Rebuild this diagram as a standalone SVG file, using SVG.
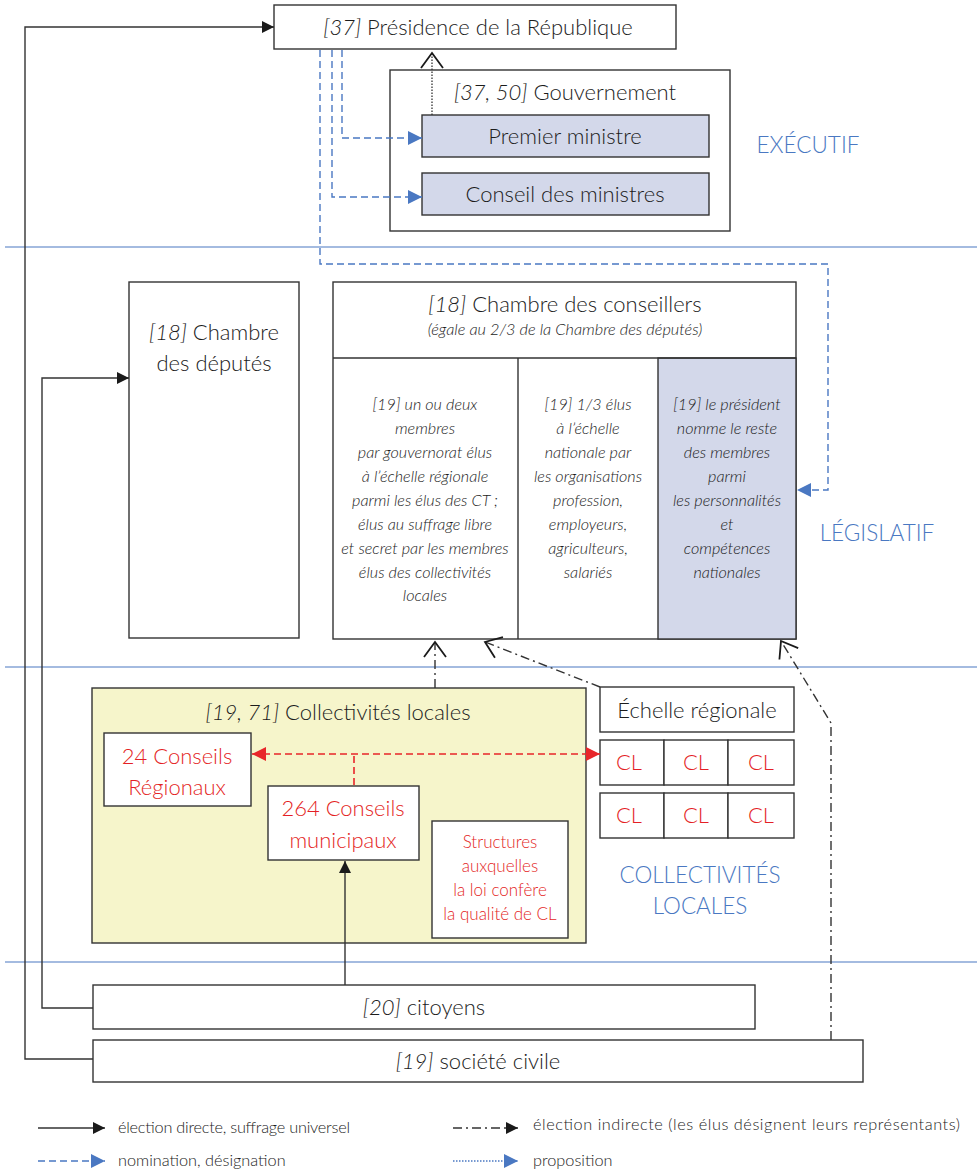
<svg xmlns="http://www.w3.org/2000/svg" width="977" height="1171" viewBox="0 0 977 1171">
  <style>
    text { font-family: "Lato", "Noto Sans", "Liberation Sans", sans-serif; fill: #1c1c1c; font-weight: 300; }
    .t21 { font-size: 22px; text-anchor: middle; }
    .t20 { font-size: 22px; text-anchor: middle; }
    .it { font-style: italic; }
    .col { font-size: 16.2px; font-style: italic; text-anchor: middle; }
    .red { fill: #e41f25; }
    .zone { font-size: 22.5px; fill: #4a78c2; text-anchor: middle; font-weight: 300; }
    .leg { font-size: 16.3px; }
    .box { fill: #ffffff; stroke: #333333; stroke-width: 1.4; }
    .lav { fill: #d3d8ea; stroke: #333333; stroke-width: 1.4; }
    .yel { fill: #f6f5cb; stroke: #333333; stroke-width: 1.4; }
    .sep { stroke: #4a78c2; stroke-width: 1.2; }
    .direct { fill: none; stroke: #333333; stroke-width: 1.4; }
    .nomin { fill: none; stroke: #4a78c2; stroke-width: 1.4; stroke-dasharray: 7 4; }
    .indir { fill: none; stroke: #333333; stroke-width: 1.4; stroke-dasharray: 9 4 2 4; }
    .prop { fill: none; stroke: #333333; stroke-width: 1.3; stroke-dasharray: 1.5 1.5; }
    .reddash { fill: none; stroke: #e8262a; stroke-width: 1.6; stroke-dasharray: 7 4; }
  </style>
  <defs>
    <marker id="arrBlack" viewBox="0 0 12 12" refX="12" refY="6" markerWidth="12" markerHeight="12" markerUnits="userSpaceOnUse" orient="auto">
      <path d="M0,0 L12,6 L0,12 z" fill="#1a1a1a"/>
    </marker>
    <marker id="arrBlue" viewBox="0 0 14 14" refX="14" refY="7" markerWidth="14" markerHeight="14" markerUnits="userSpaceOnUse" orient="auto">
      <path d="M0,0 L14,7 L0,14 z" fill="#4a78c2"/>
    </marker>
    <marker id="arrRed" viewBox="0 0 14 14" refX="14" refY="7" markerWidth="14" markerHeight="14" markerUnits="userSpaceOnUse" orient="auto-start-reverse">
      <path d="M0,0 L14,7 L0,14 z" fill="#e8262a"/>
    </marker>
    <marker id="arrOpen" viewBox="0 0 18 24" refX="16" refY="12" markerWidth="18" markerHeight="24" markerUnits="userSpaceOnUse" orient="auto">
      <path d="M1,1 L16,12 L1,23" fill="none" stroke="#1a1a1a" stroke-width="1.8" stroke-dasharray="none"/>
    </marker>
  </defs>

  <rect width="977" height="1171" fill="#ffffff"/>

  <!-- zone separators -->
  <g id="separators">
    <line class="sep" x1="5" y1="247" x2="977" y2="247"/>
    <line class="sep" x1="5" y1="667" x2="977" y2="667"/>
    <line class="sep" x1="5" y1="962" x2="977" y2="962"/>
  </g>

  <!-- zone labels -->
  <g id="zone-labels">
    <text class="zone" x="808" y="153">EXÉCUTIF</text>
    <text class="zone" x="877" y="541">LÉGISLATIF</text>
    <text class="zone" x="700" y="883">COLLECTIVITÉS</text>
    <text class="zone" x="700" y="914">LOCALES</text>
  </g>

  <!-- executive -->
  <g id="presidence">
    <rect class="box" x="274" y="5" width="402" height="44"/>
    <text class="t21" x="478" y="35"><tspan class="it">[37]</tspan> Présidence de la République</text>
  </g>
  <g id="gouvernement">
    <rect class="box" x="390" y="70" width="340" height="161"/>
    <text class="t21" x="565" y="100"><tspan class="it">[37, 50]</tspan> Gouvernement</text>
  </g>
  <g id="premier-ministre">
    <rect class="lav" x="422" y="115" width="287" height="42"/>
    <text class="t21" x="565" y="144">Premier ministre</text>
  </g>
  <g id="conseil-ministres">
    <rect class="lav" x="422" y="173" width="287" height="42"/>
    <text class="t21" x="565" y="202">Conseil des ministres</text>
  </g>

  <!-- legislative -->
  <g id="chambre-deputes">
    <rect class="box" x="129" y="282" width="170" height="356"/>
    <text class="t21" x="214" y="340"><tspan class="it">[18]</tspan> Chambre</text>
    <text class="t21" x="214" y="371">des députés</text>
  </g>
  <g id="chambre-conseillers">
    <rect class="box" x="333" y="282" width="463" height="357"/>
    <rect class="lav" x="658" y="358" width="138" height="281"/>
    <line x1="333" y1="358" x2="796" y2="358" stroke="#333333" stroke-width="1.4"/>
    <line x1="518" y1="358" x2="518" y2="639" stroke="#333333" stroke-width="1.4"/>
    <text class="t21" x="565" y="312"><tspan class="it">[18]</tspan> Chambre des conseillers</text>
    <text class="col" x="565" y="335" style="font-size:16.3px">(égale au 2/3 de la Chambre des députés)</text>
  </g>
  <g id="membres-regionaux">
    <text class="col" x="425" y="410">[19] un ou deux</text>
    <text class="col" x="425" y="434">membres</text>
    <text class="col" x="425" y="458">par gouvernorat élus</text>
    <text class="col" x="425" y="482">à l’échelle régionale</text>
    <text class="col" x="425" y="506">parmi les élus des CT ;</text>
    <text class="col" x="425" y="530">élus au suffrage libre</text>
    <text class="col" x="425" y="554">et secret par les membres</text>
    <text class="col" x="425" y="578">élus des collectivités</text>
    <text class="col" x="425" y="601">locales</text>
  </g>
  <g id="membres-nationaux">
    <text class="col" x="588" y="410">[19] 1/3 élus</text>
    <text class="col" x="588" y="434">à l’échelle</text>
    <text class="col" x="588" y="458">nationale par</text>
    <text class="col" x="588" y="482">les organisations</text>
    <text class="col" x="588" y="506">profession,</text>
    <text class="col" x="588" y="530">employeurs,</text>
    <text class="col" x="588" y="554">agriculteurs,</text>
    <text class="col" x="588" y="578">salariés</text>
  </g>
  <g id="membres-nommes">
    <text class="col" x="727" y="410">[19] le président</text>
    <text class="col" x="727" y="434">nomme le reste</text>
    <text class="col" x="727" y="458">des membres</text>
    <text class="col" x="727" y="482">parmi</text>
    <text class="col" x="727" y="506">les personnalités</text>
    <text class="col" x="727" y="530">et</text>
    <text class="col" x="727" y="554">compétences</text>
    <text class="col" x="727" y="578">nationales</text>
  </g>

  <!-- local authorities -->
  <g id="collectivites-locales">
    <rect class="yel" x="92" y="688" width="494" height="255"/>
    <text class="t21" x="338" y="720"><tspan class="it">[19, 71]</tspan> Collectivités locales</text>
  </g>
  <g id="conseils-regionaux">
    <rect class="box" x="104" y="733" width="147" height="73"/>
    <text class="t21 red" x="177" y="764">24 Conseils</text>
    <text class="t21 red" x="177" y="795">Régionaux</text>
  </g>
  <g id="conseils-municipaux">
    <rect class="box" x="268" y="786" width="151" height="74"/>
    <text class="t21 red" x="343" y="816">264 Conseils</text>
    <text class="t21 red" x="343" y="848">municipaux</text>
  </g>
  <g id="structures">
    <rect class="box" x="432" y="821" width="136" height="117"/>
    <text class="t20 red" x="500" y="848" style="font-size:17px">Structures</text>
    <text class="t20 red" x="500" y="872" style="font-size:17px">auxquelles</text>
    <text class="t20 red" x="500" y="896" style="font-size:17px">la loi confère</text>
    <text class="t20 red" x="500" y="920" style="font-size:17px">la qualité de CL</text>
  </g>
  <g id="echelle-regionale">
    <rect class="box" x="600" y="687" width="194" height="45"/>
    <text class="t21" x="697" y="718">Échelle régionale</text>
  </g>
  <g id="cl-grid">
    <rect class="box" x="600" y="740" width="64" height="45"/>
    <rect class="box" x="664" y="740" width="64" height="45"/>
    <rect class="box" x="728" y="740" width="66" height="45"/>
    <rect class="box" x="600" y="793" width="64" height="45"/>
    <rect class="box" x="664" y="793" width="64" height="45"/>
    <rect class="box" x="728" y="793" width="66" height="45"/>
    <text class="t21 red" x="629" y="770">CL</text>
    <text class="t21 red" x="696" y="770">CL</text>
    <text class="t21 red" x="761" y="770">CL</text>
    <text class="t21 red" x="629" y="823">CL</text>
    <text class="t21 red" x="696" y="823">CL</text>
    <text class="t21 red" x="761" y="823">CL</text>
  </g>

  <!-- society -->
  <g id="citoyens">
    <rect class="box" x="93" y="985" width="662" height="44"/>
    <text class="t20" x="424" y="1015"><tspan class="it">[20]</tspan> citoyens</text>
  </g>
  <g id="societe-civile">
    <rect class="box" x="93" y="1040" width="770" height="42"/>
    <text class="t20" x="478" y="1069"><tspan class="it">[19]</tspan> société civile</text>
  </g>

  <!-- connectors -->
  <g id="connectors">
    <polyline class="direct" points="93,1059 25,1059 25,27 274,27" marker-end="url(#arrBlack)"/>
    <polyline class="direct" points="93,1008 42,1008 42,378 129,378" marker-end="url(#arrBlack)"/>
    <polyline class="direct" points="345,985 345,861" marker-end="url(#arrBlack)"/>
    <polyline class="nomin" points="320,50 320,264 828,264 828,490 797,490" marker-end="url(#arrBlue)"/>
    <polyline class="nomin" points="332,50 332,197 422,197" marker-end="url(#arrBlue)"/>
    <polyline class="nomin" points="342,50 342,138 422,138" marker-end="url(#arrBlue)"/>
    <polyline class="prop" points="432,115 432,53" marker-end="url(#arrOpen)"/>
    <polyline class="indir" points="435,688 435,642" marker-end="url(#arrOpen)"/>
    <polyline class="indir" points="600,687 485,642" marker-end="url(#arrOpen)"/>
    <polyline class="indir" points="831,1040 831,723 781,641" marker-end="url(#arrOpen)"/>
    <polyline class="reddash" points="252,754 600,754" marker-start="url(#arrRed)" marker-end="url(#arrRed)"/>
    <polyline class="reddash" points="354,756 354,786"/>
  </g>

  <!-- legend -->
  <g id="legend">
    <line class="direct" x1="38" y1="1128" x2="105" y2="1128" marker-end="url(#arrBlack)"/>
    <text class="leg" x="118" y="1133" textLength="232">élection directe, suffrage universel</text>
    <line class="indir" x1="453" y1="1128" x2="518" y2="1128" marker-end="url(#arrBlack)"/>
    <text class="leg" x="533" y="1130" textLength="427">élection indirecte (les élus désignent leurs représentants)</text>
    <line class="nomin" x1="38" y1="1161" x2="105" y2="1161" marker-end="url(#arrBlue)"/>
    <text class="leg" x="118" y="1166">nomination, désignation</text>
    <line class="prop" x1="453" y1="1161" x2="518" y2="1161" style="stroke:#4a78c2" marker-end="url(#arrBlue)"/>
    <text class="leg" x="533" y="1166">proposition</text>
  </g>
</svg>
